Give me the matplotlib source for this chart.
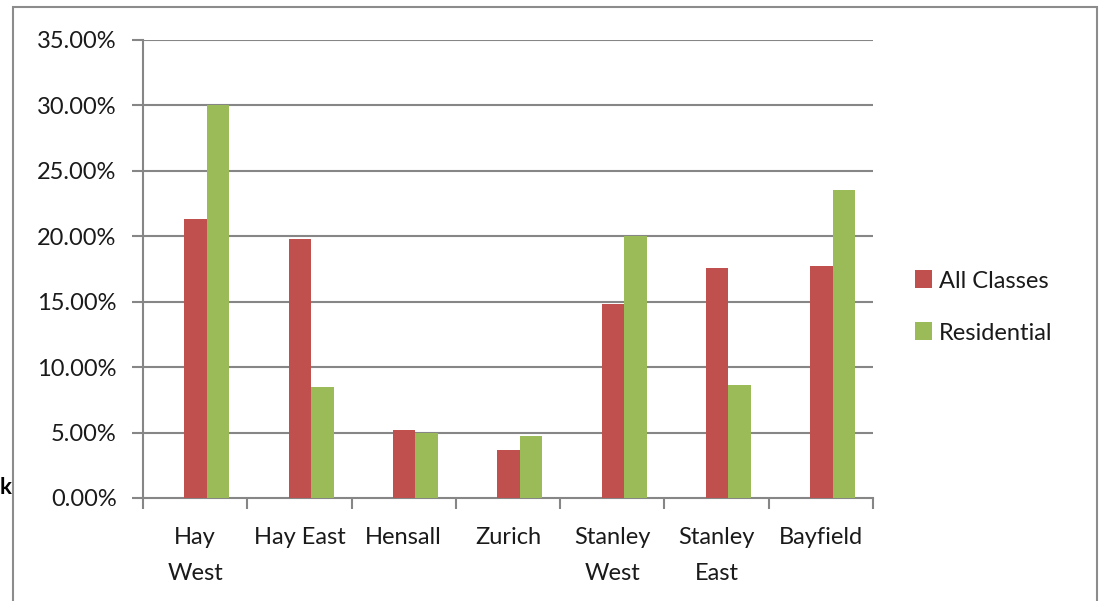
import matplotlib.pyplot as plt
import numpy as np
from matplotlib.patches import Rectangle

plt.rcParams['font.family'] = ['Lato', 'DejaVu Sans']

# data
categories = ['Hay\nWest', 'Hay East', 'Hensall', 'Zurich', 'Stanley\nWest', 'Stanley\nEast', 'Bayfield']
all_classes = [0.213, 0.198, 0.052, 0.037, 0.148, 0.176, 0.177]
residential = [0.300, 0.085, 0.050, 0.047, 0.200, 0.086, 0.235]

red = '#C0504D'
green = '#9BBB59'
grid_col = '#868686'
txt_col = '#1a1a1a'
fs = 17

fig = plt.figure(figsize=(10.99, 6.01), dpi=100)
ax = fig.add_axes([143 / 1099, 1 - 498 / 601, (873 - 143) / 1099, (498 - 40) / 601])

x = np.arange(len(categories))
w = 0.216
# in the original the red bar sits on the category centre, green just right of it
ax.bar(x + 0.005, all_classes, w, color=red, label='All Classes', zorder=3)
ax.bar(x + 0.005 + w, residential, w, color=green, label='Residential', zorder=3)

ax.set_xlim(-0.5, len(categories) - 0.5)
ax.set_ylim(0, 0.35)
yt = np.arange(0, 0.351, 0.05)
ax.set_yticks(yt)
ax.set_yticklabels(['%.2f%%' % (v * 100) for v in yt], color=txt_col, fontsize=fs)
for v in yt[1:]:
    ax.axhline(v, color=grid_col, lw=1.5, zorder=1)

ax.set_xticks(x)
ax.set_xticklabels(categories, color=txt_col, fontsize=fs, linespacing=1.85)
ax.tick_params(axis='x', which='major', length=0, pad=21)
ax.set_xticks(np.arange(-0.5, len(categories)), minor=True)
ax.tick_params(axis='x', which='minor', length=8, width=1.5, color=grid_col, direction='out')
ax.tick_params(axis='y', length=8, width=1.5, color=grid_col, direction='out', pad=11)

for s in ['top', 'right']:
    ax.spines[s].set_visible(False)
for s in ['left', 'bottom']:
    ax.spines[s].set_color(grid_col)
    ax.spines[s].set_linewidth(1.5)

leg = fig.legend(loc='center left', bbox_to_anchor=(894 / 1099, 1 - 307 / 601), frameon=False,
                 fontsize=fs, handlelength=0.7, handleheight=0.8, handletextpad=0.3,
                 labelspacing=1.3)
for t in leg.get_texts():
    t.set_color(txt_col)

# outer chart border
fig.patches.append(Rectangle((13 / 1099, -0.05), (1097 - 13) / 1099, 1.05 - 7 / 601,
                             transform=fig.transFigure, fill=False, edgecolor='#8c8c8c',
                             lw=1.5))
fig.text(0.0, 1 - 488 / 601, 'k', fontsize=16, fontweight='bold', va='center', ha='left')

fig.savefig('out.png', dpi=100)
